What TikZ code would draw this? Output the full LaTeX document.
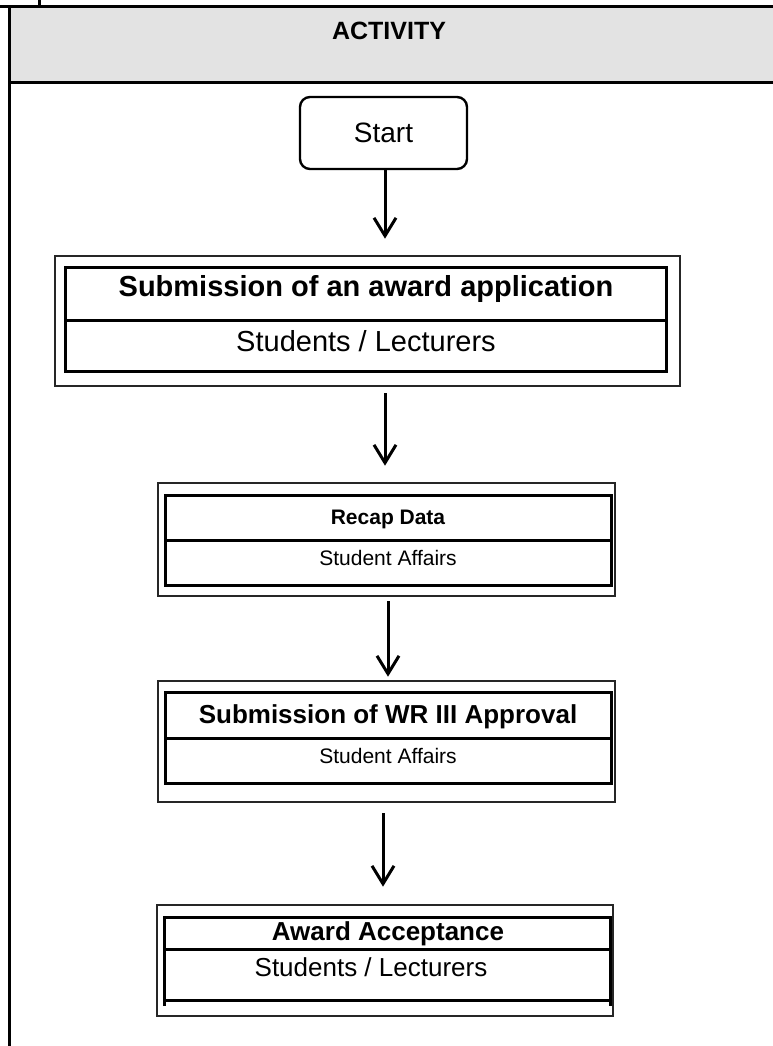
\documentclass[tikz,border=0pt]{standalone}
\usepackage{fontspec}
\setmainfont{Liberation Sans}
\usetikzlibrary{arrows.meta}

\tikzset{
  outerbox/.style={draw=black!85,line width=2.6pt,inner sep=0pt,rectangle},
  innerline/.style={line width=3pt,line cap=rect},
  flow/.style={line width=3pt,-{Straight Barb[length=18pt,width=22pt]}},
  lbl/.style={inner sep=0pt,anchor=center}
}
\newcommand\fsz[1]{\fontsize{#1}{#1}\selectfont}

\begin{document}
\begin{tikzpicture}[x=1pt,y=-1pt,line join=miter]
  \useasboundingbox (0,0) rectangle (773,1046);
  % table head
  \fill[black!11] (9,7) rectangle (773,83);
  \draw[line width=3pt] (0,7) -- (773,7);
  \draw[line width=3pt] (9,83) -- (773,83);
  \draw[line width=3pt] (9,7) -- (9,1046);
  \draw[line width=3pt] (39,0) -- (39,7);
  \node[lbl,font=\fsz{25}\bfseries] (head) at (389,31) {ACTIVITY};

  \node[draw,line width=2.4pt,rounded corners=10pt,minimum width=167pt,
    minimum height=72pt,inner sep=0pt,font=\fsz{28}] (start) at (383.5,133) {Start};

  % step boxes: outer frame as node, inner table drawn on top
  \node[outerbox,minimum width=625pt,minimum height=130pt] (apply) at (367.5,321) {};
  \draw[innerline] (65,267) rectangle (666,371);
  \draw[innerline] (65,320) -- (666,320);
  \node[lbl,font=\fsz{29}\bfseries] (applyT) at (366,289) {Submission of an award application};
  \node[lbl,font=\fsz{29}] (applyS) at (366,341) {Students / Lecturers};

  \node[outerbox,minimum width=457pt,minimum height=113pt] (recap) at (386.5,539.5) {};
  \draw[innerline] (165,495) rectangle (611,585);
  \draw[innerline] (165,540) -- (611,540);
  \node[lbl,font=\fsz{21}\bfseries] (recapT) at (388,519) {Recap Data};
  \node[lbl,font=\fsz{21}] (recapS) at (388,558) {Student Affairs};

  \node[outerbox,minimum width=457pt,minimum height=121pt] (wr) at (386.5,741.5) {};
  \draw[innerline] (165,692) rectangle (611,783);
  \draw[innerline] (165,738) -- (611,738);
  \node[lbl,font=\fsz{26}\bfseries] (wrT) at (388,717) {Submission of WR III Approval};
  \node[lbl,font=\fsz{21}] (wrS) at (388,756) {Student Affairs};

  \node[outerbox,minimum width=456pt,minimum height=111pt] (accept) at (385,960.5) {};
  \draw[innerline,line cap=butt] (164,1006) -- (164,917) -- (610,917) -- (610,1006);
  \draw[innerline] (164,949) -- (610,949);
  \draw[innerline] (164,1000) -- (610,1000);
  \node[lbl,font=\fsz{26}\bfseries] (acceptT) at (388,934) {Award Acceptance};
  \node[lbl,font=\fsz{26}] (acceptS) at (371,967) {Students / Lecturers};

  % flow arrows
  \draw[flow,shorten >=16pt] ([xshift=1.5pt]start.south)
    -- ([xshift=1.5pt]start.south |- apply.north);
  \draw[flow,shorten <=6pt,shorten >=16pt] ([xshift=17.5pt]apply.south)
    -- ([xshift=17.5pt]apply.south |- recap.north);
  \draw[flow,shorten <=4pt,shorten >=3pt] ([xshift=1.5pt]recap.south)
    -- ([xshift=1.5pt]recap.south |- wr.north);
  \draw[flow,shorten <=10pt,shorten >=17pt] ([xshift=-3.5pt]wr.south)
    -- ([xshift=-3.5pt]wr.south |- accept.north);
\end{tikzpicture}
\end{document}
